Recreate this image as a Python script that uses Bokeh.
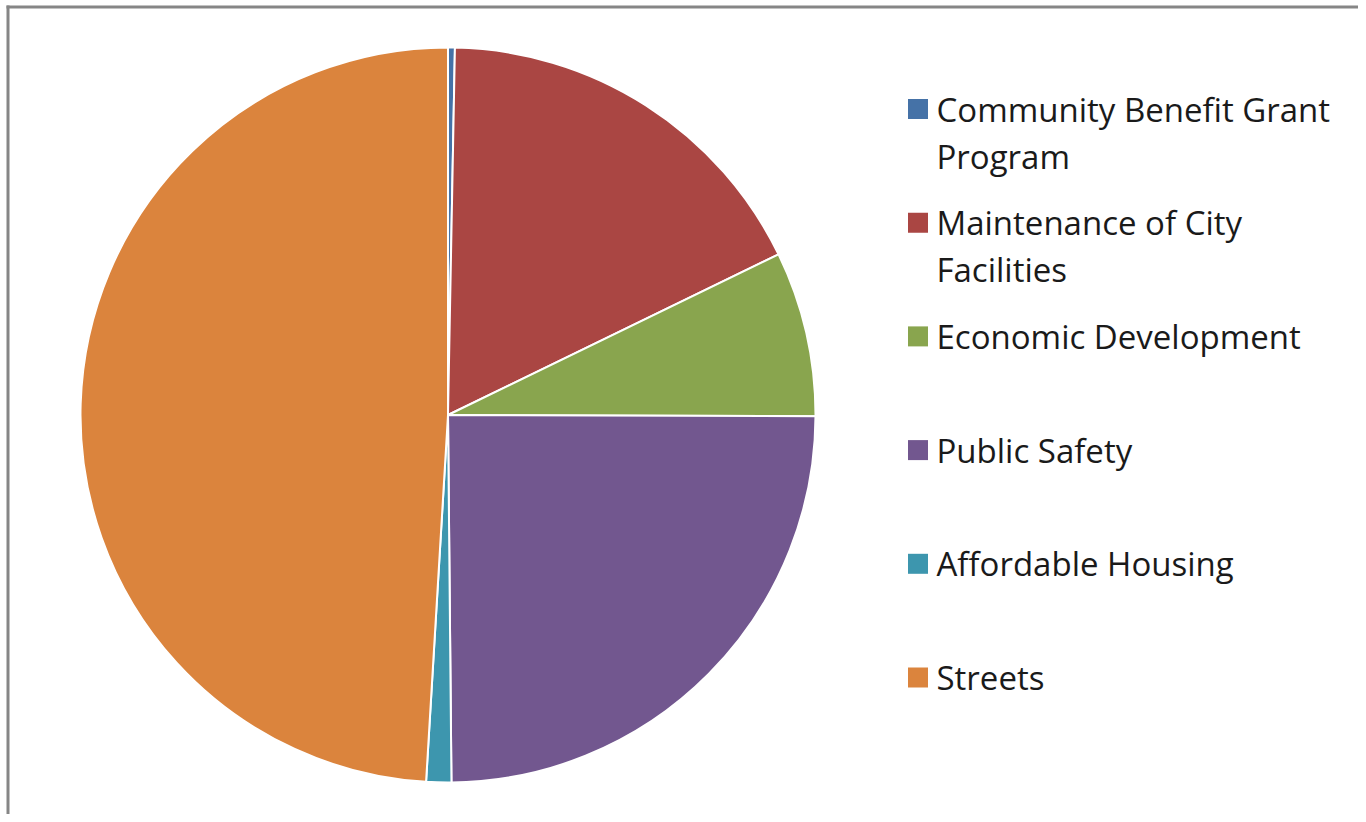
import math
import textwrap
from bokeh.plotting import figure
from bokeh.models import Range1d, ColumnDataSource
from bokeh.core.properties import value
from bokeh.embed import file_html
from bokeh.resources import INLINE

# ---- data ----
categories = [
    "Community Benefit Grant Program",
    "Maintenance of City Facilities",
    "Economic Development",
    "Public Safety",
    "Affordable Housing",
    "Streets",
]
shares = [0.3, 17.5, 7.25, 24.8, 1.1, 49.05]
colors = ["#4572A7", "#AA4643", "#89A54E", "#72578F", "#3D96AE", "#DB843D"]

# ---- layout (pixels) ----
W, H = 1358, 814
cx, cy, R = 447.5, H - 414.5, 367.5

p = figure(width=W, height=H, x_range=Range1d(0, W), y_range=Range1d(0, H),
           output_backend="svg", toolbar_location=None, min_border=0)
p.axis.visible = False
p.grid.visible = False
p.outline_line_color = None
p.background_fill_color = "white"

total = sum(shares)
starts, ends = [], []
acc = 0.0
for s in shares:
    starts.append(math.pi / 2 - 2 * math.pi * acc / total)
    acc += s
    ends.append(math.pi / 2 - 2 * math.pi * acc / total)

src = ColumnDataSource(dict(x=[cx] * len(shares), y=[cy] * len(shares),
                            start=starts, end=ends, color=colors, name=categories))
p.wedge(x="x", y="y", radius=R, start_angle="start", end_angle="end",
        direction="clock", fill_color="color", line_color="white", line_width=2,
        source=src)

# ---- legend ----
lx, sq_x, first_y, step, line_gap = 936, 917.5, H - 108.5, 113.7, 47
tx, ty, tt = [], [], []
sx, sy, sc = [], [], []
for i, (lab, col) in enumerate(zip(categories, colors)):
    y0 = first_y - step * i
    lines = textwrap.wrap(lab, 23)
    for j, ln in enumerate(lines):
        tx.append(lx); ty.append(y0 - j * line_gap); tt.append(ln)
    sx.append(sq_x); sy.append(y0); sc.append(col)
p.rect(x=sx, y=sy, width=20, height=20, fill_color=sc, line_color=None)
p.text(x=tx, y=ty, text=tt, text_font=value("Open Sans"), text_font_size="33px",
       text_baseline="middle", text_align="left", text_color="#1a1a1a")

# ---- chart area frame (top & left visible) ----
p.segment(x0=[6, 7.5], y0=[H - 6.5, 0], x1=[W, 7.5], y1=[H - 6.5, H - 5],
          line_color="#868686", line_width=3)

open("out.html", "w").write(file_html(p, INLINE))
